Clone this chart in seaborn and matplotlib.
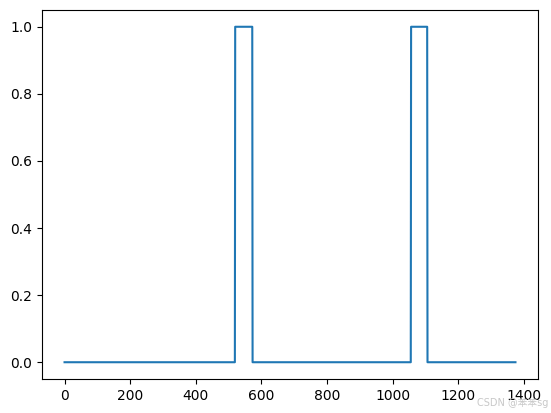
import numpy as np
import pandas as pd
import matplotlib
matplotlib.use("Agg")
import matplotlib.pyplot as plt
import seaborn as sns

n_samples = 1375
pulse_starts = [520, 1056]
pulse_ends = [572, 1105]
pulse_level = 1.0
base_level = 0.0

x = np.arange(n_samples)
y = np.full(n_samples, base_level)
for s, e in zip(pulse_starts, pulse_ends):
    y[s:e + 1] = pulse_level
df = pd.DataFrame({"x": x, "y": y})

plt.rcParams['font.family'] = ['DejaVu Sans', 'Noto Sans CJK SC']
fig = plt.figure(figsize=(5.51, 4.13), dpi=100)
ax = fig.add_axes([42 / 551, 1 - 379 / 413, (538 - 42) / 551, (379 - 10) / 413])
sns.lineplot(data=df, x="x", y="y", ax=ax, color="#1f77b4", linewidth=1.5)
ax.set_xlabel("")
ax.set_ylabel("")
fig.text(0.995, 0.012, "CSDN @苯苯sg", ha="right", va="bottom", fontsize=7,
         color="#c8c8c8", family=['DejaVu Sans', 'Noto Sans CJK SC'])
fig.savefig("out.png", dpi=100)
